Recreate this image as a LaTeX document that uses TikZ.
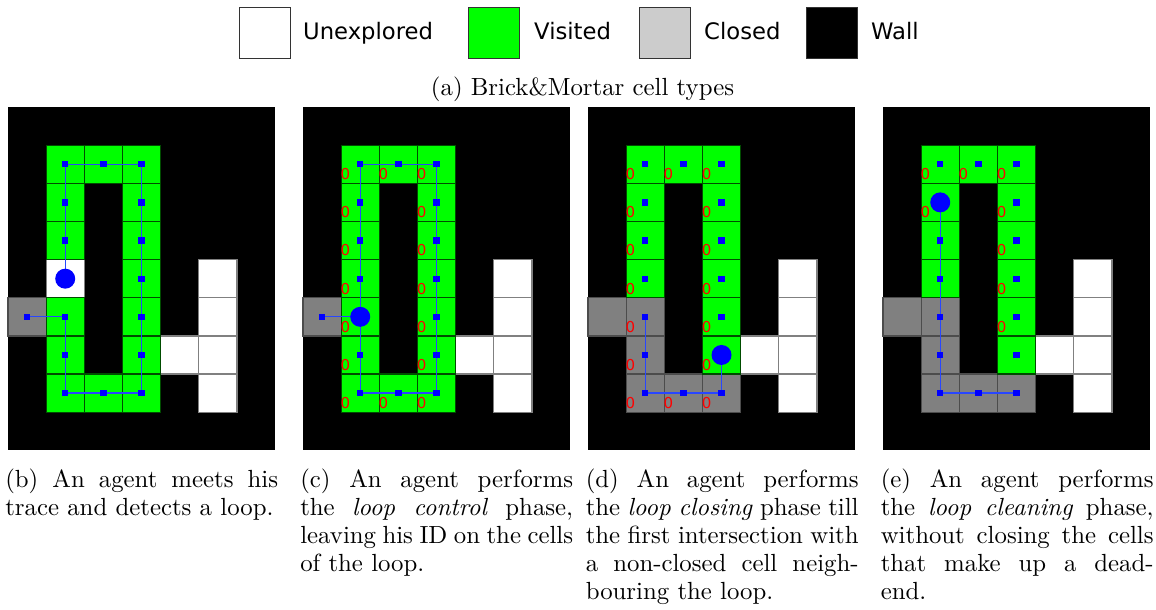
\documentclass[tikz,border=0pt]{standalone}
\usepackage{fontspec}
\usepackage{graphicx}
\newfontfamily\legendfont{DejaVu Sans}
\definecolor{visitedgreen}{RGB}{0,255,0}
\definecolor{closedgray}{RGB}{128,128,128}
\definecolor{legendgray}{RGB}{204,204,204}
\definecolor{tracecol}{RGB}{40,70,255}
\newcommand{\capbox}[1]{\scalebox{2.48}{\parbox[t]{110pt}{\fontsize{10}{11.3}\selectfont #1}}}
\tikzset{
  cellbase/.style={line width=1.2pt},
  greencell/.style={cellbase, fill=visitedgreen, draw=green!30!black},
  graycell/.style={cellbase, fill=closedgray, draw=black!70},
  whitecell/.style={cellbase, fill=white, draw=black!50},
  trail/.style={draw=tracecol, line width=1.3pt},
  marker/.style={rectangle, fill=blue, inner sep=0pt, minimum size=6.3pt},
  agent/.style={circle, fill=blue, inner sep=0pt, minimum size=20pt},
  idmark/.style={text=red, font=\legendfont\fontsize{15}{15}\selectfont, inner sep=0pt},
  legbox/.style={draw=black!80, line width=1pt, minimum width=51pt, minimum height=51pt, inner sep=0pt},
  legtext/.style={font=\legendfont\fontsize{22.7}{27}\selectfont, inner sep=0pt, anchor=base west},
  captext/.style={inner sep=0pt, anchor=base west},
}
\begin{document}
\begin{tikzpicture}[x=1pt, y=-1pt]
\useasboundingbox (0,0) rectangle (1156,610);

% ---------- legend ----------
\node[legbox, fill=white] (leg-u) at (264.5,33.5) {};
\node[legtext] (leg-ut) at (303,40) {Unexplored};
\node[legbox, fill=visitedgreen] (leg-v) at (493.5,33.5) {};
\node[legtext] (leg-vt) at (534,40) {Visited};
\node[legbox, fill=legendgray] (leg-c) at (665,33.5) {};
\node[legtext] (leg-ct) at (704,40) {Closed};
\node[legbox, fill=black] (leg-w) at (831.5,33.5) {};
\node[legtext] (leg-wt) at (871,40) {Wall};
\node[inner sep=0pt, anchor=base] (cap-a) at (582.5,95)
  {\scalebox{2.48}{\fontsize{10}{12}\selectfont (a) Brick\&Mortar cell types}};

% ---------- panel (b) ----------
\begin{scope}[shift={(8,107)}, x=38.15pt, y=-38.15pt]
  \fill[black] (0,0) rectangle (7,9);
  \foreach \c/\r in {5/4,5/5,5/6,5/7,4/6,1/4} \draw[whitecell] (\c,\r) rectangle ++(1,1);
  \foreach \c/\r in {0/5} \draw[graycell] (\c,\r) rectangle ++(1,1);
  \foreach \c/\r in {1/1,2/1,3/1,1/2,1/3,1/5,1/6,1/7,2/7,3/7,3/2,3/3,3/4,3/5,3/6}
    \draw[greencell] (\c,\r) rectangle ++(1,1);
  \foreach \c/\r in {0/5,1/1,2/1,3/1,1/2,1/3,1/4,1/5,1/6,1/7,2/7,3/7,3/2,3/3,3/4,3/5,3/6}
    \coordinate (b-\c-\r) at (\c+0.5,\r+0.5);
  \draw[trail] (b-1-4) -- (b-1-1) -- (b-3-1) -- (b-3-7) -- (b-1-7) -- (b-1-5) -- (b-0-5);
  \foreach \c/\r in {0/5,1/1,2/1,3/1,1/2,1/3,1/5,1/6,1/7,2/7,3/7,3/2,3/3,3/4,3/5,3/6}
    \node[marker] (bm-\c-\r) at (b-\c-\r) {};
  \node[agent] (b-agent) at (b-1-4) {};
\end{scope}

% ---------- panel (c) ----------
\begin{scope}[shift={(303,107)}, x=38.15pt, y=-38.15pt]
  \fill[black] (0,0) rectangle (7,9);
  \foreach \c/\r in {5/4,5/5,5/6,5/7,4/6} \draw[whitecell] (\c,\r) rectangle ++(1,1);
  \foreach \c/\r in {0/5} \draw[graycell] (\c,\r) rectangle ++(1,1);
  \foreach \c/\r in {1/1,2/1,3/1,1/2,1/3,1/4,1/5,1/6,1/7,2/7,3/7,3/2,3/3,3/4,3/5,3/6}
    \draw[greencell] (\c,\r) rectangle ++(1,1);
  \foreach \c/\r in {1/1,2/1,3/1,1/2,1/3,1/4,1/5,1/6,1/7,2/7,3/7,3/2,3/3,3/4,3/5,3/6}
    \node[idmark] (cz-\c-\r) at (\c+0.11,\r+0.76) {0};
  \foreach \c/\r in {0/5,1/1,2/1,3/1,1/2,1/3,1/4,1/5,1/6,1/7,2/7,3/7,3/2,3/3,3/4,3/5,3/6}
    \coordinate (c-\c-\r) at (\c+0.5,\r+0.5);
  \draw[trail] (c-0-5) -- (c-1-5);
  \draw[trail] (c-1-1) -- (c-3-1) -- (c-3-7) -- (c-1-7) -- (c-1-1);
  \foreach \c/\r in {0/5,1/1,2/1,3/1,1/2,1/3,1/4,1/6,1/7,2/7,3/7,3/2,3/3,3/4,3/5,3/6}
    \node[marker] (cm-\c-\r) at (c-\c-\r) {};
  \node[agent] (c-agent) at (c-1-5) {};
\end{scope}

% ---------- panel (d) ----------
\begin{scope}[shift={(588,107)}, x=38.15pt, y=-38.15pt]
  \fill[black] (0,0) rectangle (7,9);
  \foreach \c/\r in {5/4,5/5,5/6,5/7,4/6} \draw[whitecell] (\c,\r) rectangle ++(1,1);
  \foreach \c/\r in {0/5,1/5,1/6,1/7,2/7,3/7} \draw[graycell] (\c,\r) rectangle ++(1,1);
  \foreach \c/\r in {1/1,2/1,3/1,1/2,1/3,1/4,3/2,3/3,3/4,3/5,3/6}
    \draw[greencell] (\c,\r) rectangle ++(1,1);
  \foreach \c/\r in {1/1,2/1,3/1,1/2,1/3,1/4,1/5,1/6,1/7,2/7,3/7,3/2,3/3,3/4,3/5,3/6}
    \node[idmark] (dz-\c-\r) at (\c+0.11,\r+0.76) {0};
  \foreach \c/\r in {1/1,2/1,3/1,1/2,1/3,1/4,1/5,1/6,1/7,2/7,3/7,3/2,3/3,3/4,3/5,3/6}
    \coordinate (d-\c-\r) at (\c+0.5,\r+0.5);
  \draw[trail] (d-1-5) -- (d-1-7) -- (d-3-7) -- (d-3-6);
  \foreach \c/\r in {1/1,2/1,3/1,1/2,1/3,1/4,1/5,1/6,1/7,2/7,3/7,3/2,3/3,3/4,3/5}
    \node[marker] (dm-\c-\r) at (d-\c-\r) {};
  \node[agent] (d-agent) at (d-3-6) {};
\end{scope}

% ---------- panel (e) ----------
\begin{scope}[shift={(883,107)}, x=38.15pt, y=-38.15pt]
  \fill[black] (0,0) rectangle (7,9);
  \foreach \c/\r in {5/4,5/5,5/6,5/7,4/6} \draw[whitecell] (\c,\r) rectangle ++(1,1);
  \foreach \c/\r in {0/5,1/5,1/6,1/7,2/7,3/7} \draw[graycell] (\c,\r) rectangle ++(1,1);
  \foreach \c/\r in {1/1,2/1,3/1,1/2,1/3,1/4,3/2,3/3,3/4,3/5,3/6}
    \draw[greencell] (\c,\r) rectangle ++(1,1);
  \foreach \c/\r in {1/1,2/1,3/1,1/2,3/2,3/3,3/4,3/5}
    \node[idmark] (ez-\c-\r) at (\c+0.11,\r+0.76) {0};
  \foreach \c/\r in {1/1,2/1,3/1,1/2,1/3,1/4,1/5,1/6,1/7,2/7,3/7,3/2,3/3,3/4,3/5,3/6}
    \coordinate (e-\c-\r) at (\c+0.5,\r+0.5);
  \draw[trail] (e-1-2) -- (e-1-7) -- (e-3-7);
  \foreach \c/\r in {1/1,2/1,3/1,1/3,1/4,1/5,1/6,1/7,2/7,3/7,3/2,3/3,3/4,3/5,3/6}
    \node[marker] (em-\c-\r) at (e-\c-\r) {};
  \node[agent] (e-agent) at (e-1-2) {};
\end{scope}

% ---------- sub-captions ----------
\node[captext] (cap-b) at (5.1,487) {\capbox{(b) An agent meets his\linebreak trace and detects a loop.}};
\node[captext] (cap-c) at (300.1,487) {\capbox{(c) An agent performs\linebreak the \textit{loop control} phase,\linebreak leaving his ID on the cells\linebreak of the loop.}};
\node[captext] (cap-d) at (585.6,487) {\capbox{(d) An agent performs\linebreak the \textit{loop closing} phase till\linebreak the first intersection with\linebreak a non-closed cell neigh-\linebreak bouring the loop.}};
\node[captext] (cap-e) at (880.6,487) {\capbox{(e) An agent performs\linebreak the \textit{loop cleaning} phase,\linebreak without closing the cells\linebreak that make up a dead-\linebreak end.}};
\end{tikzpicture}
\end{document}
